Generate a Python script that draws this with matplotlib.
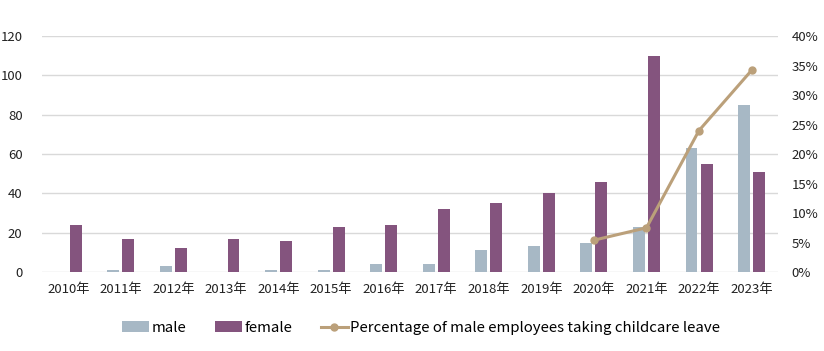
import numpy as np
import matplotlib
matplotlib.use("Agg")
import matplotlib.pyplot as plt
from matplotlib.ticker import PercentFormatter

plt.rcParams['font.family'] = ['Noto Sans CJK JP', 'DejaVu Sans']

years = ['2010年', '2011年', '2012年', '2013年', '2014年', '2015年', '2016年',
         '2017年', '2018年', '2019年', '2020年', '2021年', '2022年', '2023年']
male = [0, 1, 3, 0, 1, 1, 4, 4, 11, 13, 15, 23, 63, 85]
female = [24, 17, 12, 17, 16, 23, 24, 32, 35, 40, 46, 110, 55, 51]
pct_years = ['2020年', '2021年', '2022年', '2023年']
pct = [5.4, 7.5, 24.0, 34.2]

c_male = '#A7B8C5'
c_female = '#84547E'
c_line = '#BBA07A'

fig = plt.figure(figsize=(8.24, 3.51), dpi=100)
ax = fig.add_axes([0.051, 0.225, 0.893, 0.672])
x = np.arange(len(years))
w = 0.228
ax.bar(x - 0.143, male, w, color=c_male, label='male', zorder=3)
ax.bar(x + 0.143, female, w, color=c_female, label='female', zorder=3)
ax.set_ylim(0, 120)
ax.set_yticks(range(0, 121, 20))
ax.set_xlim(-0.5, len(years) - 0.5)
ax.set_xticks(x)
ax.set_xticklabels(years)
ax.grid(axis='y', color='#D9D9D9', linewidth=1, zorder=0)
for s in ax.spines.values():
    s.set_visible(False)
ax.tick_params(length=0, labelsize=9.5, colors='#222222')
ax.tick_params(axis='x', pad=8)
ax.tick_params(axis='y', pad=14)

ax2 = ax.twinx()
px = [years.index(y) for y in pct_years]
ax2.plot(px, pct, color=c_line, linewidth=2.2, marker='o', markersize=5,
         label='Percentage of male employees taking childcare leave', zorder=4)
ax2.set_ylim(0, 40)
ax2.set_yticks(range(0, 41, 5))
ax2.yaxis.set_major_formatter(PercentFormatter(decimals=0))
for s in ax2.spines.values():
    s.set_visible(False)
ax2.tick_params(length=0, labelsize=9.5, colors='#222222', pad=10)

h1, l1 = ax.get_legend_handles_labels()
h2, l2 = ax2.get_legend_handles_labels()
fig.legend(h1 + h2, l1 + l2, loc='center', bbox_to_anchor=(0.511, 0.066),
           ncol=3, frameon=False, fontsize=10.8, handlelength=1.8,
           handleheight=0.7, handletextpad=0.15, columnspacing=1.9,
           borderaxespad=0, borderpad=0)

fig.savefig('out.png', dpi=100)
